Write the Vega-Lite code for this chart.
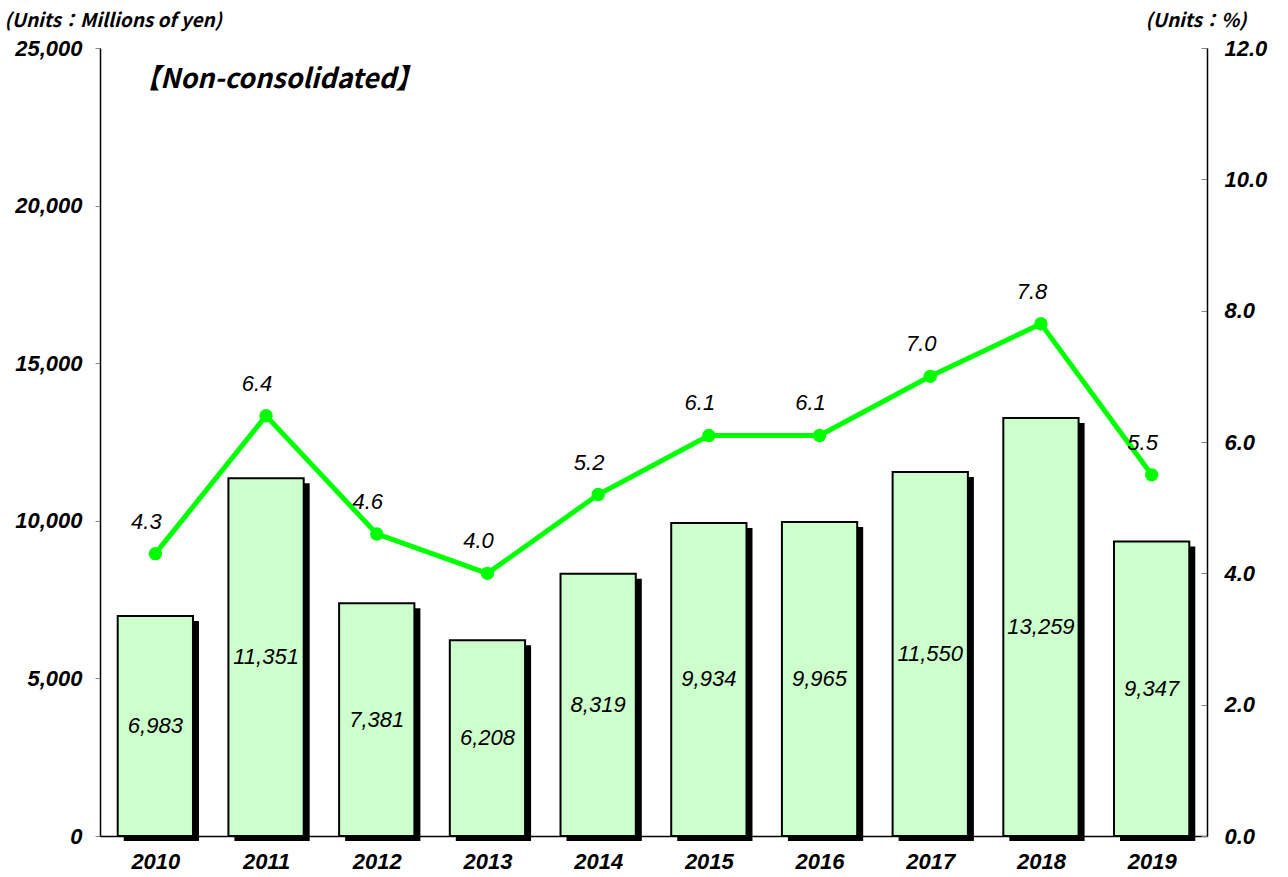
{
  "$schema": "https://vega.github.io/schema/vega-lite/v6.json",
  "width": 1107,
  "height": 788,
  "autosize": {"type": "none"},
  "padding": {"left": 100, "top": 48, "right": 81, "bottom": 41},
  "background": "white",
  "title": {
    "text": "【Non-consolidated】",
    "anchor": "start",
    "frame": "group",
    "orient": "top",
    "offset": 0,
    "dx": 33,
    "dy": 96,
    "baseline": "middle",
    "font": "Noto Sans CJK JP",
    "fontSize": 27,
    "fontStyle": "italic",
    "fontWeight": "bold",
    "color": "black"
  },
  "config": {
    "view": {"stroke": null},
    "axis": {
      "labelFont": "Liberation Sans",
      "labelFontStyle": "italic",
      "labelFontWeight": "bold",
      "labelFontSize": 22,
      "labelColor": "black",
      "domainColor": "black",
      "domainWidth": 1.5,
      "tickColor": "#888888",
      "grid": false,
      "titleFont": "Noto Sans CJK JP",
      "titleFontStyle": "italic",
      "titleFontWeight": "bold",
      "titleFontSize": 19,
      "titleColor": "black"
    }
  },
  "data": {
    "values": [
      {"year": "2010", "amount": 6983, "ratio": 4.3},
      {"year": "2011", "amount": 11351, "ratio": 6.4},
      {"year": "2012", "amount": 7381, "ratio": 4.6},
      {"year": "2013", "amount": 6208, "ratio": 4.0},
      {"year": "2014", "amount": 8319, "ratio": 5.2},
      {"year": "2015", "amount": 9934, "ratio": 6.1},
      {"year": "2016", "amount": 9965, "ratio": 6.1},
      {"year": "2017", "amount": 11550, "ratio": 7.0},
      {"year": "2018", "amount": 13259, "ratio": 7.8},
      {"year": "2019", "amount": 9347, "ratio": 5.5}
    ]
  },
  "encoding": {
    "x": {
      "field": "year",
      "type": "ordinal",
      "scale": {"paddingInner": 0.32, "paddingOuter": 0.16},
      "axis": {
        "title": null,
        "labelAngle": 0,
        "labelPadding": 22,
        "tickSize": -7,
        "tickBand": "extent",
        "domainColor": "black"
      }
    }
  },
  "layer": [
    {
      "encoding": {
        "y": {
          "field": "amount",
          "type": "quantitative",
          "scale": {"domain": [0, 25000], "nice": false},
          "axis": {
            "orient": "left",
            "values": [0, 5000, 10000, 15000, 20000, 25000],
            "format": ",d",
            "tickSize": 5,
            "labelPadding": 13,
            "title": "(Units：Millions of yen)",
            "titleAngle": 0,
            "titleAlign": "left",
            "titleBaseline": "middle",
            "titleX": -96,
            "titleY": -28
          }
        }
      },
      "layer": [
        {
          "mark": {"type": "bar", "color": "black", "xOffset": 6, "x2Offset": 6, "yOffset": 5}
        },
        {
          "mark": {"type": "bar", "fill": "#CCFFCC", "stroke": "black", "strokeWidth": 2}
        },
        {
          "mark": {"type": "text", "font": "Liberation Sans", "fontStyle": "italic", "fontSize": 22, "color": "black", "baseline": "middle"},
          "encoding": {
            "y": {"field": "amount", "type": "quantitative", "stack": "zero", "bandPosition": 0.5},
            "text": {"field": "amount", "type": "quantitative", "format": ","}
          }
        }
      ]
    },
    {
      "encoding": {
        "y": {
          "field": "ratio",
          "type": "quantitative",
          "scale": {"domain": [0, 12], "nice": false},
          "axis": {
            "orient": "right",
            "values": [0, 2, 4, 6, 8, 10, 12],
            "format": ".1f",
            "tickSize": -6,
            "labelPadding": 23,
            "title": "(Units：%)",
            "titleAngle": 0,
            "titleAlign": "left",
            "titleBaseline": "middle",
            "titleX": -62,
            "titleY": -28
          }
        }
      },
      "layer": [
        {
          "mark": {"type": "line", "color": "#00FF00", "strokeWidth": 5, "point": {"filled": true, "size": 180, "color": "#00FF00", "opacity": 1}}
        },
        {
          "mark": {"type": "text", "font": "Liberation Sans", "fontStyle": "italic", "fontSize": 22, "color": "black", "dy": -32, "dx": -9, "baseline": "middle"},
          "encoding": {
            "text": {"field": "ratio", "type": "quantitative", "format": ".1f"}
          }
        }
      ]
    }
  ],
  "resolve": {"scale": {"y": "independent"}}
}
